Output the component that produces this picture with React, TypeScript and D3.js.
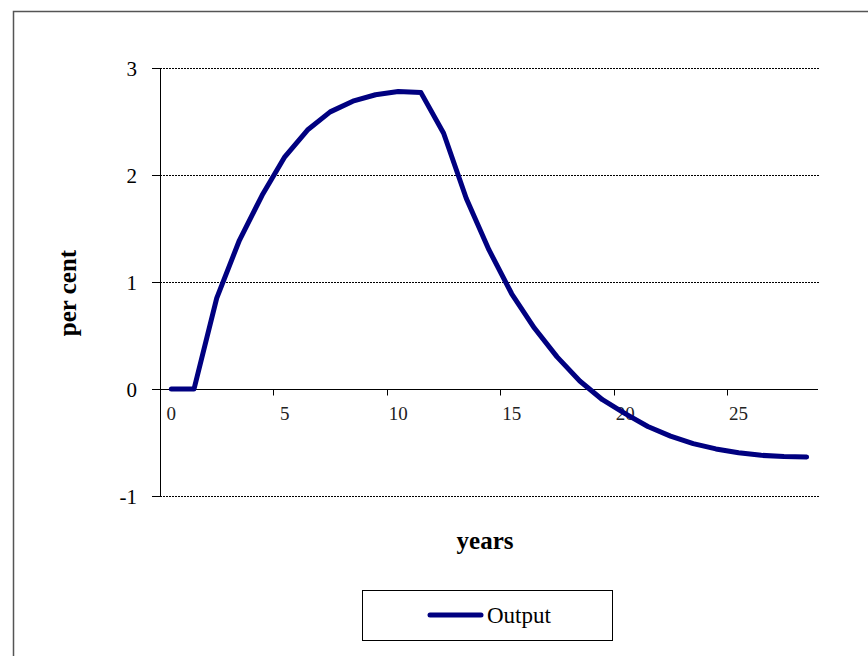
import React, { useRef, useEffect } from 'react';
import * as d3 from 'd3';

const years = [0, 1, 2, 3, 4, 5, 6, 7, 8, 9, 10, 11, 12, 13, 14, 15, 16, 17, 18, 19, 20, 21, 22, 23, 24, 25, 26, 27, 28];
const output = [0, 0, 0.85, 1.39, 1.81, 2.17, 2.42, 2.59, 2.69, 2.75, 2.78, 2.77, 2.39, 1.78, 1.3, 0.89, 0.57, 0.3, 0.075, -0.1, -0.23, -0.35, -0.44, -0.51, -0.56, -0.595, -0.62, -0.63, -0.635];
const yTicks = [-1, 0, 1, 2, 3];
const xLabels = [0, 5, 10, 15, 20, 25];
const seriesName = 'Output';

const LineChart: React.FC = () => {
  const ref = useRef<SVGSVGElement | null>(null);
  const width = 868;
  const height = 656;

  useEffect(() => {
    if (!ref.current) return;
    const svg = d3.select(ref.current);
    svg.selectAll('*').remove();

    const serif = '"Liberation Serif", "Times New Roman", serif';
    const left = 160, right = 818, top = 68, bottom = 496;

    const x = d3.scaleBand<number>().domain(years).range([left, right]).paddingInner(0).paddingOuter(0);
    const cx = (d: number) => (x(d) as number) + x.bandwidth() / 2;
    const y = d3.scaleLinear().domain([-1, 3]).range([bottom, top]);

    // Outer frame (cut off at right and bottom)
    svg.append('rect')
      .attr('x', 13.5).attr('y', 11.5)
      .attr('width', 900).attr('height', 700)
      .attr('fill', '#fff')
      .attr('stroke', '#555')
      .attr('stroke-width', 1.5);

    // Gridlines
    svg.append('g')
      .selectAll('line')
      .data(yTicks.filter(t => t !== 0))
      .enter()
      .append('line')
      .attr('x1', left).attr('x2', right + 2)
      .attr('y1', d => Math.round(y(d)) + 0.5)
      .attr('y2', d => Math.round(y(d)) + 0.5)
      .attr('stroke', '#000')
      .attr('stroke-width', 1)
      .attr('stroke-dasharray', '2,1');

    // Y axis
    const ya = svg.append('g');
    ya.append('line')
      .attr('x1', left + 0.5).attr('x2', left + 0.5)
      .attr('y1', top).attr('y2', bottom + 0.5)
      .attr('stroke', '#000');
    yTicks.forEach(t => {
      const yy = Math.round(y(t)) + 0.5;
      ya.append('line')
        .attr('x1', left - 8).attr('x2', left)
        .attr('y1', yy).attr('y2', yy)
        .attr('stroke', '#000');
      ya.append('text')
        .attr('x', 137).attr('y', yy + 7)
        .attr('text-anchor', 'end')
        .attr('font-family', serif)
        .attr('font-size', 21)
        .text(t);
    });

    // X axis at zero
    const xa = svg.append('g');
    const y0 = Math.round(y(0)) + 0.5;
    xa.append('line')
      .attr('x1', left).attr('x2', right)
      .attr('y1', y0).attr('y2', y0)
      .attr('stroke', '#000');
    xLabels.filter(v => v > 0).forEach(v => {
      const xx = Math.round(x(v) as number) + 0.5;
      xa.append('line')
        .attr('x1', xx).attr('x2', xx)
        .attr('y1', y0).attr('y2', y0 + 6)
        .attr('stroke', '#000');
    });
    xLabels.forEach(v => {
      xa.append('text')
        .attr('x', cx(v)).attr('y', 420)
        .attr('text-anchor', 'middle')
        .attr('font-family', serif)
        .attr('font-size', 19)
        .attr('fill', '#222')
        .text(v);
    });

    // Series line
    const line = d3.line<number>()
      .x((_, i) => cx(years[i]))
      .y(d => y(d));
    svg.append('path')
      .datum(output)
      .attr('d', line)
      .attr('fill', 'none')
      .attr('stroke', '#000080')
      .attr('stroke-width', 5)
      .attr('stroke-linejoin', 'round')
      .attr('stroke-linecap', 'round');

    // Axis titles
    svg.append('text')
      .attr('transform', 'translate(76,293) rotate(-90)')
      .attr('text-anchor', 'middle')
      .attr('font-family', serif)
      .attr('font-size', 25)
      .attr('font-weight', 'bold')
      .text('per cent');
    svg.append('text')
      .attr('x', 485).attr('y', 549)
      .attr('text-anchor', 'middle')
      .attr('font-family', serif)
      .attr('font-size', 25)
      .attr('font-weight', 'bold')
      .text('years');

    // Legend
    const lg = svg.append('g');
    lg.append('rect')
      .attr('x', 362.5).attr('y', 590.5)
      .attr('width', 250).attr('height', 50)
      .attr('fill', '#fff')
      .attr('stroke', '#000');
    lg.append('line')
      .attr('x1', 430).attr('x2', 481)
      .attr('y1', 615).attr('y2', 615)
      .attr('stroke', '#000080')
      .attr('stroke-width', 5)
      .attr('stroke-linecap', 'round');
    lg.append('text')
      .attr('x', 487).attr('y', 623)
      .attr('font-family', serif)
      .attr('font-size', 23)
      .text(seriesName);
  }, []);

  return <svg ref={ref} width={width} height={height} style={{ position: 'absolute', left: 0, top: 0, display: 'block' }} />;
};

export default function App() {
  return <LineChart />;
}
